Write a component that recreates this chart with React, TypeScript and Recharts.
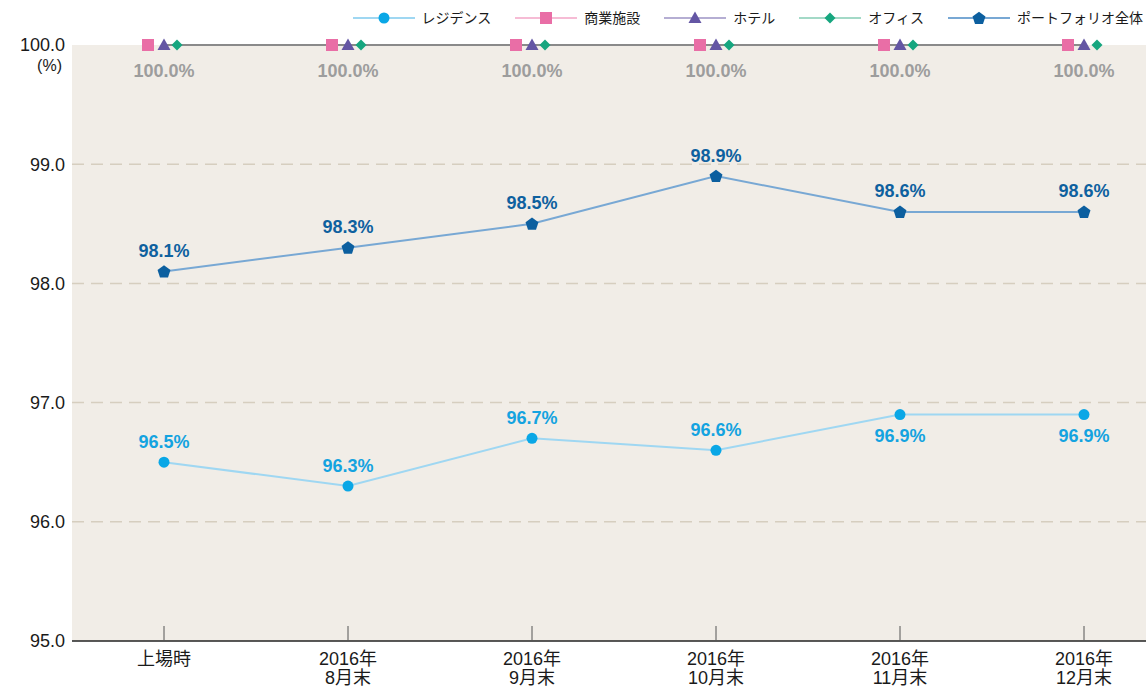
import React from 'react';
import { LineChart, Line, XAxis, YAxis, CartesianGrid, LabelList } from 'recharts';

const categories = ['上場時', '2016年\n8月末', '2016年\n9月末', '2016年\n10月末', '2016年\n11月末', '2016年\n12月末'];
const residence = [96.5, 96.3, 96.7, 96.6, 96.9, 96.9];
const commercial = [100.0, 100.0, 100.0, 100.0, 100.0, 100.0];
const hotel = [100.0, 100.0, 100.0, 100.0, 100.0, 100.0];
const office = [100.0, 100.0, 100.0, 100.0, 100.0, 100.0];
const portfolio = [98.1, 98.3, 98.5, 98.9, 98.6, 98.6];
const residenceLabelSide = ['top', 'top', 'top', 'top', 'bottom', 'bottom'];
const yTicks = [95, 96, 97, 98, 99, 100];
const gridValues = [96, 97, 98, 99];

const seriesNames = ['レジデンス', '商業施設', 'ホテル', 'オフィス', 'ポートフォリオ全体'];

const data = categories.map((c, i) => ({
  category: c,
  residence: residence[i],
  commercial: commercial[i],
  hotel: hotel[i],
  office: office[i],
  portfolio: portfolio[i],
  resSide: residenceLabelSide[i],
}));

const FONT = '"Liberation Sans", Arial, "Noto Sans CJK JP", sans-serif';

const C = {
  resLine: '#9fd7f2',
  resDot: '#0aa7e6',
  resLabel: '#14a3e0',
  pink: '#e96ea6',
  pinkLine: '#f6bcd5',
  purple: '#6456a4',
  purpleLine: '#b5aed3',
  green: '#16a67f',
  greenLine: '#a3d9c7',
  pfLine: '#78a8d4',
  pfDot: '#0c5f9f',
  pfLabel: '#0e619f',
  gray: '#8a8a8a',
  grayLabel: '#9d9d9d',
  grid: '#d6cebf',
  bg: '#f1ede7',
};

const pentagon = (cx: number, cy: number, r: number) => {
  const pts: string[] = [];
  for (let k = 0; k < 5; k++) {
    const a = -Math.PI / 2 + (k * 2 * Math.PI) / 5;
    pts.push(`${cx + r * Math.cos(a)},${cy + r * Math.sin(a)}`);
  }
  return pts.join(' ');
};

const Square = (p: any) => (
  <rect key={p.key ?? `sq-${p.index}`} x={p.cx - 16 - 6} y={p.cy - 6} width={12} height={12} fill={C.pink} />
);
const Tri = (p: any) => (
  <polygon key={p.key ?? `tr-${p.index}`} points={`${p.cx},${p.cy - 6.5} ${p.cx + 6.5},${p.cy + 5} ${p.cx - 6.5},${p.cy + 5}`} fill={C.purple} />
);
const Diamond = (p: any) => (
  <polygon key={p.key ?? `dm-${p.index}`} points={`${p.cx + 13},${p.cy - 5.5} ${p.cx + 18.5},${p.cy} ${p.cx + 13},${p.cy + 5.5} ${p.cx + 7.5},${p.cy}`} fill={C.green} />
);
const Circ = (p: any) => <circle key={p.key ?? `ci-${p.index}`} cx={p.cx} cy={p.cy} r={5.5} fill={C.resDot} />;
const Pent = (p: any) => <polygon key={p.key ?? `pe-${p.index}`} points={pentagon(p.cx, p.cy + 0.5, 6.8)} fill={C.pfDot} />;

const XTick = (props: any) => {
  const { x, y, payload } = props;
  const lines = String(payload.value).split('\n');
  return (
    <g>
      <line x1={x} x2={x} y1={y} y2={y - 15} stroke="#555" strokeWidth={1} />
      {lines.map((l, i) => (
        <text key={i} x={x} y={y + 24 + i * 19} textAnchor="middle" fontSize={18} fill="#1a1a1a" fontFamily={FONT}>
          {l}
        </text>
      ))}
    </g>
  );
};

const YTick = (props: any) => {
  const { x, y, payload } = props;
  return (
    <g>
      <text x={x} y={y} dy="0.36em" textAnchor="end" fontSize={18} fill="#1a1a1a" fontFamily={FONT}>
        {Number(payload.value).toFixed(1)}
      </text>
      {payload.value === 100 && (
        <text x={x - 3} y={y + 20} dy="0.36em" textAnchor="end" fontSize={16} fill="#1a1a1a" fontFamily={FONT}>
          (%)
        </text>
      )}
    </g>
  );
};

const makeLabel = (color: string, side: 'top' | 'bottom' | 'auto', offset: number) => (p: any) => {
  const { x, y, value, index } = p;
  const s = side === 'auto' ? data[index].resSide : side;
  const ty = s === 'top' ? y - offset : y + offset;
  return (
    <text x={x} y={ty} dy="0.36em" textAnchor="middle" fontSize={18} fontWeight="bold" fill={color} fontFamily={FONT}>
      {`${Number(value).toFixed(1)}%`}
    </text>
  );
};

const legendItems = [
  { name: seriesNames[0], line: C.resLine, marker: <circle cx={31} cy={9} r={5.5} fill={C.resDot} /> },
  { name: seriesNames[1], line: C.pinkLine, marker: <rect x={25} y={3} width={12} height={12} fill={C.pink} /> },
  { name: seriesNames[2], line: C.purpleLine, marker: <polygon points="31,2.5 37.5,14 24.5,14" fill={C.purple} /> },
  { name: seriesNames[3], line: C.greenLine, marker: <polygon points="31,3.5 36.5,9 31,14.5 25.5,9" fill={C.green} /> },
  { name: seriesNames[4], line: C.pfLine, marker: <polygon points={pentagon(31, 9.5, 6.8)} fill={C.pfDot} /> },
];

export default function App() {
  return (
    <div style={{ position: 'absolute', left: 0, top: 0, width: 1146, height: 689, background: '#fff', fontFamily: FONT }}>
      <div
        style={{
          position: 'absolute',
          top: 9,
          right: 3,
          display: 'flex',
          alignItems: 'center',
          fontSize: 14,
          color: '#1a1a1a',
          fontFamily: FONT,
        }}
      >
        {legendItems.map((it, i) => (
          <div key={i} style={{ display: 'flex', alignItems: 'center', marginLeft: i === 0 ? 0 : 24 }}>
            <svg width={62} height={18}>
              <line x1={0} x2={62} y1={9} y2={9} stroke={it.line} strokeWidth={2} />
              {it.marker}
            </svg>
            <span style={{ marginLeft: 7, lineHeight: '18px' }}>{it.name}</span>
          </div>
        ))}
      </div>
      <LineChart width={1146} height={689} data={data} margin={{ top: 45, right: 0, bottom: 0, left: 0 }}>
        <CartesianGrid
          vertical={false}
          horizontalValues={gridValues}
          stroke={C.grid}
          strokeDasharray="12 7"
          strokeWidth={1.5}
          fill={C.bg}
        />
        <XAxis
          dataKey="category"
          scale="point"
          padding={{ left: 92, right: 62 }}
          height={48}
          tickSize={0}
          tickMargin={0}
          tickLine={false}
          axisLine={{ stroke: '#222', strokeWidth: 1.5 }}
          tick={<XTick />}
          interval={0}
        />
        <YAxis
          domain={[95, 100]}
          ticks={yTicks}
          width={72}
          axisLine={false}
          tickLine={false}
          tickSize={0}
          tickMargin={7}
          tick={<YTick />}
          interval={0}
        />
        <Line dataKey="office" stroke={C.gray} strokeWidth={2} dot={Diamond} activeDot={false} isAnimationActive={false}>
          <LabelList dataKey="office" content={makeLabel(C.grayLabel, 'bottom', 26)} />
        </Line>
        <Line dataKey="commercial" stroke="none" dot={Square} activeDot={false} isAnimationActive={false} />
        <Line dataKey="hotel" stroke="none" dot={Tri} activeDot={false} isAnimationActive={false} />
        <Line dataKey="residence" stroke={C.resLine} strokeWidth={2} dot={Circ} activeDot={false} isAnimationActive={false}>
          <LabelList dataKey="residence" content={makeLabel(C.resLabel, 'auto', 21)} />
        </Line>
        <Line dataKey="portfolio" stroke={C.pfLine} strokeWidth={2} dot={Pent} activeDot={false} isAnimationActive={false}>
          <LabelList dataKey="portfolio" content={makeLabel(C.pfLabel, 'top', 21)} />
        </Line>
      </LineChart>
    </div>
  );
}
